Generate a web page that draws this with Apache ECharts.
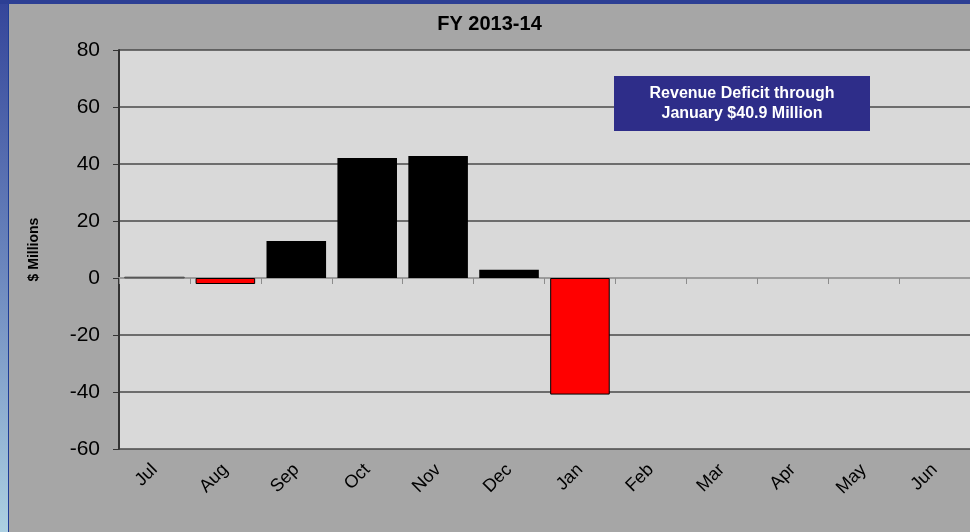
<!DOCTYPE html>
<html>
<head>
<meta charset="utf-8">
<script src="https://cdn.jsdelivr.net/npm/echarts@6/dist/echarts.min.js"></script>
<style>
  html, body { margin: 0; padding: 0; }
  body {
    width: 970px; height: 532px; overflow: hidden; position: relative;
    background: linear-gradient(to bottom, #34459a 0%, #6b86bd 50%, #acd0e2 100%);
  }
  #topbar { position: absolute; left: 0; top: 0; width: 970px; height: 4px; background: #2c3f94; }
  #chart {
    position: absolute; left: 8px; top: 4px; width: 962px; height: 528px;
    background: #a6a6a6; border-left: 1px solid #1f3d96; box-sizing: border-box;
  }
</style>
</head>
<body>
<div id="topbar"></div>
<div id="chart"></div>
<script>
// 月份
var months = ["Jul", "Aug", "Sep", "Oct", "Nov", "Dec", "Jan", "Feb", "Mar", "Apr", "May", "Jun"];
// 每月收入差额（百万美元），Feb-Jun 无数据
var values = [0.3, -2.1, 13, 42.1, 42.8, 2.9, -40.9, null, null, null, null, null];
var yRange = [-60, 80];
var yStep = 20;
var noteLines = ["Revenue Deficit through", "January $40.9 Million"];

var chart = echarts.init(document.getElementById("chart"));

var barData = values.map(function (v, i) {
  if (v == null) return null;
  if (i === 0) return { value: v, itemStyle: { color: "#555555", borderColor: "#555555" } };
  return {
    value: v,
    itemStyle: v < 0
      ? { color: "#ff0000", borderColor: "#000", borderWidth: 1 }
      : { color: "#000000" }
  };
});

var option = {
  animation: false,
  textStyle: { fontFamily: "Liberation Sans, Arial, sans-serif" },
  title: {
    text: "FY 2013-14",
    left: "center",
    top: 5,
    textStyle: { fontSize: 20, fontWeight: "bold", color: "#000" }
  },
  grid: { left: 110, right: -2, top: 46, bottom: 83, show: true, backgroundColor: "#d9d9d9", borderWidth: 0 },
  xAxis: [
    {
      type: "category",
      data: months,
      axisLine: { onZero: true, lineStyle: { color: "#9c9c9c", width: 2 } },
      axisTick: { show: true, length: 6, lineStyle: { color: "#8c8c8c" } },
      axisLabel: { show: false }
    },
    {
      type: "category",
      data: months,
      position: "bottom",
      axisLine: { show: false, onZero: false },
      axisTick: { show: false },
      axisLabel: { rotate: 45, fontSize: 18, color: "#000", margin: 18 }
    }
  ],
  yAxis: {
    type: "value",
    min: yRange[0],
    max: yRange[1],
    interval: yStep,
    name: "$ Millions",
    nameLocation: "middle",
    nameRotate: 90,
    nameGap: 78,
    nameTextStyle: { fontSize: 14, fontWeight: "bold", color: "#000" },
    axisLine: { show: true, lineStyle: { color: "#333", width: 2 } },
    axisTick: { show: true, length: 6, lineStyle: { color: "#333" } },
    axisLabel: { fontSize: 21, color: "#000", margin: 19 },
    splitLine: { lineStyle: { color: "#484848", width: 1.5 } }
  },
  series: [
    {
      type: "bar",
      xAxisIndex: 0,
      data: barData,
      barCategoryGap: "16%"
    }
  ],
  graphic: [
    {
      type: "group",
      left: 605, top: 72,
      z: 100,
      children: [
        {
          type: "rect",
          z: 100,
          shape: { x: 0, y: 0, width: 256, height: 55 },
          style: { fill: "#2e2d89" }
        },
        {
          type: "text",
          z: 101,
          x: 128, y: 28,
          style: {
            text: noteLines.join("\n"),
            fill: "#fff",
            font: "bold 16px Liberation Sans, Arial, sans-serif",
            lineHeight: 20,
            align: "center",
            verticalAlign: "middle"
          }
        }
      ]
    }
  ]
};
option && chart.setOption(option);
</script>
</body>
</html>
